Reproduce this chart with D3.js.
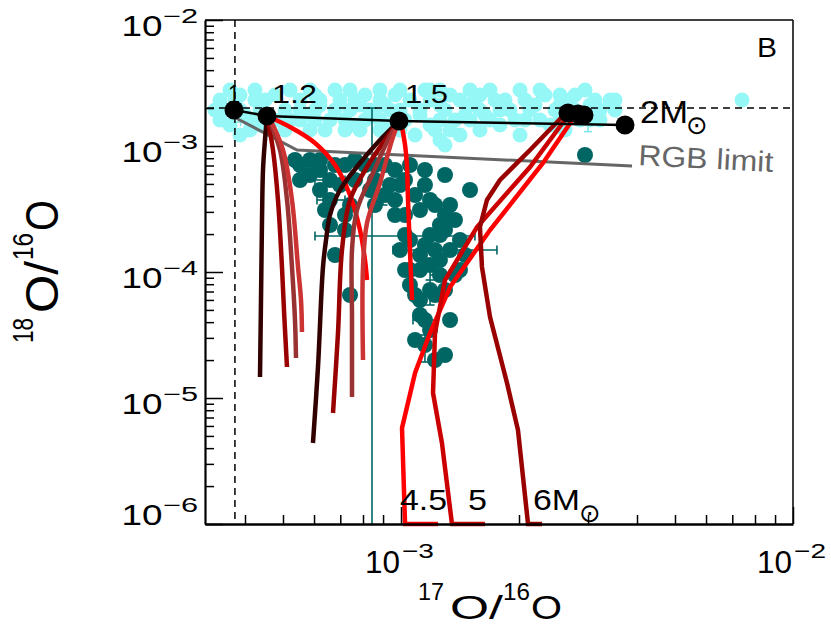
<!DOCTYPE html>
<html>
<head>
<meta charset="utf-8">
<script src="https://cdn.jsdelivr.net/npm/d3@7"></script>
<style>
  html, body { margin: 0; padding: 0; background: #fff; }
  svg { display: block; font-family: "Liberation Sans", Arial, Helvetica, sans-serif; }
</style>
</head>
<body>
<svg id="chart" width="831" height="627"></svg>
<script>
// --- Data ---
const xDomain = [3.1623e-4, 1e-2];
const yDomain = [1e-6, 1e-2];
const xMajor = [1e-3, 1e-2];
const xMajorExp = ["−3", "−2"];
const yMajor = [1e-2, 1e-3, 1e-4, 1e-5, 1e-6];
const yMajorExp = ["−2", "−3", "−4", "−5", "−6"];

// solar reference values
const solar17 = 3.77e-4;
const solar18 = 2.0e-3;

// light cyan grains
const cyanX = [3.454e-4, 3.556e-4, 3.884e-4, 3.999e-4, 4.241e-4, 4.368e-4, 4.771e-4, 5.059e-4, 5.210e-4, 5.525e-4,
  5.690e-4, 6.033e-4, 6.214e-4, 6.590e-4, 6.988e-4, 7.412e-4, 7.632e-4, 8.094e-4, 8.583e-4, 9.103e-4,
  9.374e-4, 1.054e-3, 1.118e-3, 1.151e-3, 1.186e-3, 1.257e-3, 1.334e-3, 1.373e-3, 1.414e-3, 1.500e-3,
  1.590e-3, 1.637e-3, 1.737e-3, 1.789e-3, 1.897e-3, 2.012e-3, 2.072e-3, 2.197e-3, 2.330e-3, 2.400e-3,
  2.544e-3, 2.620e-3, 2.779e-3, 3.034e-3, 3.219e-3, 3.413e-3, 1.295e-3, 3.663e-4, 4.632e-4, 5.859e-4,
  7.197e-4, 1.086e-3, 2.012e-3, 2.861e-3, 7.413e-3, 1.500e-3, 1.186e-3, 8.838e-4, 2.544e-3, 3.219e-3,
  4.118e-4, 6.786e-4, 9.941e-4, 2.263e-3, 1.457e-3, 9.654e-4, 4.912e-4, 7.860e-4, 1.842e-3, 3.515e-3, 3.884e-4,
  3.663e-4, 4.241e-4, 5.210e-4, 5.859e-4, 7.412e-4, 9.941e-4, 1.257e-3, 1.687e-3, 2.263e-3, 2.947e-3,
  3.772e-4, 4.498e-4, 6.214e-4, 7.632e-4, 8.838e-4, 1.186e-3, 1.414e-3, 1.544e-3, 2.072e-3, 2.698e-3, 3.125e-3,
  3.354e-4, 3.884e-4, 4.368e-4, 5.525e-4, 6.033e-4, 6.786e-4, 8.336e-4, 9.374e-4, 1.118e-3, 1.295e-3,
  1.590e-3, 1.789e-3, 2.134e-3, 2.471e-3, 2.779e-3, 3.515e-3,
  3.454e-4, 4.632e-4, 5.525e-4, 6.033e-4, 7.197e-4, 8.094e-4, 8.838e-4, 1.024e-3, 1.257e-3, 1.500e-3,
  1.687e-3, 1.954e-3, 2.544e-3, 3.034e-3,
  4.118e-4, 5.059e-4, 6.399e-4, 7.860e-4, 8.838e-4, 9.941e-4, 1.221e-3, 1.334e-3, 1.590e-3, 1.257e-3];
const cyanY = [2.318e-3, 1.931e-3, 2.540e-3, 1.762e-3, 2.318e-3, 1.468e-3, 2.540e-3, 1.931e-3, 1.608e-3, 2.318e-3,
  1.762e-3, 2.540e-3, 2.116e-3, 1.608e-3, 2.318e-3, 1.931e-3, 1.468e-3, 2.540e-3, 1.762e-3, 2.116e-3,
  1.468e-3, 2.318e-3, 1.762e-3, 2.783e-3, 1.468e-3, 2.116e-3, 2.540e-3, 1.608e-3, 1.223e-3, 2.116e-3,
  2.540e-3, 1.762e-3, 2.318e-3, 1.468e-3, 1.931e-3, 2.783e-3, 1.608e-3, 2.116e-3, 2.540e-3, 1.468e-3,
  2.116e-3, 1.340e-3, 2.540e-3, 2.116e-3, 1.931e-3, 2.318e-3, 1.018e-3, 1.468e-3, 1.340e-3, 1.340e-3,
  1.340e-3, 1.223e-3, 1.223e-3, 1.608e-3, 2.318e-3, 2.783e-3, 2.783e-3, 2.783e-3, 2.540e-3, 1.608e-3,
  1.608e-3, 2.783e-3, 1.931e-3, 1.608e-3, 1.762e-3, 2.540e-3, 1.608e-3, 2.116e-3, 2.318e-3, 2.318e-3, 1.223e-3,
  2.783e-3, 2.783e-3, 2.783e-3, 2.783e-3, 2.783e-3, 2.783e-3, 2.783e-3, 2.783e-3, 2.783e-3, 2.783e-3,
  2.318e-3, 2.318e-3, 2.318e-3, 2.318e-3, 2.318e-3, 2.318e-3, 2.318e-3, 2.318e-3, 2.318e-3, 2.318e-3, 2.318e-3,
  1.931e-3, 1.931e-3, 1.931e-3, 1.931e-3, 1.931e-3, 1.931e-3, 1.931e-3, 1.931e-3, 1.931e-3, 1.931e-3,
  1.931e-3, 1.931e-3, 1.931e-3, 1.931e-3, 1.931e-3, 1.931e-3,
  1.608e-3, 1.608e-3, 1.608e-3, 1.608e-3, 1.608e-3, 1.608e-3, 1.608e-3, 1.608e-3, 1.608e-3, 1.608e-3,
  1.608e-3, 1.608e-3, 1.608e-3, 1.608e-3,
  1.340e-3, 1.340e-3, 1.340e-3, 1.340e-3, 1.340e-3, 1.340e-3, 1.340e-3, 1.340e-3, 1.340e-3, 1.116e-3];
// cyan error bars: [x, y, xlo, xhi, ylo, yhi]
const cyanErr = [
  [2.223e-3, 2.5e-3, 2.223e-3, 2.223e-3, 2.2e-3, 2.9e-3],
  [3.0e-3, 1.45e-3, 3.0e-3, 3.0e-3, 1.3e-3, 1.6e-3],
  [3.65e-4, 1.55e-3, 3.45e-4, 3.9e-4, 1.55e-3, 1.55e-3]
];

// dark teal grains
const tealX = [5.525e-4, 5.859e-4, 6.214e-4, 6.590e-4, 6.590e-4, 6.590e-4, 6.786e-4, 7.412e-4, 7.197e-4, 7.197e-4,
  7.412e-4, 8.094e-4, 9.103e-4, 9.374e-4, 8.583e-4, 9.654e-4, 1.024e-3, 1.151e-3, 1.295e-3, 1.500e-3,
  2.947e-3, 1.151e-3, 1.221e-3, 1.295e-3, 1.186e-3, 1.257e-3, 1.295e-3, 1.151e-3, 1.334e-3, 1.054e-3,
  1.186e-3, 1.373e-3, 1.186e-3, 1.221e-3, 1.151e-3, 1.151e-3, 1.295e-3, 8.336e-4, 8.583e-4, 7.632e-4,
  1.086e-3, 1.024e-3, 1.118e-3, 1.257e-3, 1.257e-3, 9.654e-4, 1.054e-3, 1.118e-3, 1.414e-3, 9.941e-4,
  5.365e-4, 6.214e-4, 6.786e-4, 7.632e-4, 8.583e-4, 9.654e-4, 1.054e-3, 1.024e-3, 1.086e-3, 9.103e-4,
  6.988e-4, 6.214e-4, 5.859e-4, 6.399e-4, 7.197e-4, 1.118e-3, 1.186e-3, 1.334e-3, 1.373e-3, 1.414e-3,
  1.221e-3, 1.118e-3, 1.257e-3, 1.295e-3, 1.118e-3, 1.054e-3, 1.334e-3, 1.186e-3, 1.086e-3, 1.221e-3,
  5.525e-4, 1.457e-3, 9.941e-4, 1.024e-3];
const tealY = [7.065e-4, 7.743e-4, 6.449e-4, 5.372e-4, 3.728e-4, 2.360e-4, 1.365e-4, 6.568e-5, 7.065e-4, 2.834e-4,
  3.402e-4, 7.065e-4, 7.065e-4, 4.903e-4, 5.372e-4, 3.728e-4, 2.834e-4, 6.449e-4, 5.886e-4, 4.475e-4,
  8.483e-4, 4.903e-4, 3.402e-4, 2.834e-4, 1.967e-4, 1.967e-4, 2.154e-4, 1.638e-4, 1.495e-4, 1.037e-4,
  1.137e-4, 9.467e-5, 7.197e-5, 6.568e-5, 4.159e-5, 2.634e-5, 2.194e-5, 4.475e-4, 3.402e-4, 5.372e-4,
  6.568e-5, 1.037e-4, 4.557e-5, 9.467e-5, 2.360e-4, 2.834e-4, 1.795e-4, 1.365e-4, 1.037e-4, 4.903e-4,
  7.743e-4, 7.743e-4, 7.065e-4, 7.743e-4, 7.065e-4, 6.449e-4, 7.065e-4, 5.372e-4, 4.084e-4, 4.084e-4,
  4.903e-4, 4.475e-4, 5.886e-4, 3.104e-4, 2.154e-4, 3.104e-4, 3.728e-4, 3.402e-4, 2.586e-4, 1.795e-4,
  1.495e-4, 1.037e-4, 1.245e-4, 7.197e-5, 5.995e-5, 7.886e-5, 4.159e-5, 3.465e-5, 2.886e-5, 2.003e-5,
  5.372e-4, 1.365e-4, 1.495e-4, 1.967e-4];
// teal error bars: [x, y, xlo, xhi, ylo, yhi]
const tealErr = [
  [6.590e-4, 5.372e-4, 6.033e-4, 7.197e-4, 5.372e-4, 5.372e-4],
  [6.590e-4, 3.728e-4, 6.105e-4, 7.197e-4, 3.728e-4, 3.728e-4],
  [1.334e-3, 1.495e-4, 9.541e-4, 1.757e-3, 1.495e-4, 1.495e-4],
  [1.257e-3, 9.467e-5, 1.186e-3, 1.380e-3, 9.467e-5, 9.467e-5],
  [1.151e-3, 4.159e-5, 1.073e-3, 1.235e-3, 4.159e-5, 4.159e-5],
  [1.186e-3, 7.197e-5, 1.186e-3, 1.186e-3, 5.471e-5, 8.640e-5],
  [1.151e-3, 2.634e-5, 1.151e-3, 1.151e-3, 1.931e-5, 3.162e-5],
  [8.996e-4, 3.900e-4, 8.996e-4, 8.996e-4, 3.402e-4, 4.475e-4],
  [8.434e-4, 1.931e-4, 6.033e-4, 1.544e-3, 5.0e-7, 2.003e-3]
];

// model tracks, 1.2 Msun (five mixing cases)
const m12Tracks = [
  [[4.552e-4, 1.730e-3], [4.498e-4, 1.116e-3], [4.446e-4, 6.449e-4], [4.420e-4, 2.586e-4], [4.394e-4, 5.995e-5], [4.368e-4, 1.468e-5]],
  [[4.552e-4, 1.730e-3], [4.715e-4, 9.296e-4], [4.855e-4, 3.728e-4], [4.970e-4, 1.096e-4], [5.029e-4, 4.993e-5], [5.119e-4, 1.762e-5]],
  [[4.578e-4, 1.699e-3], [4.912e-4, 9.296e-4], [5.119e-4, 3.728e-4], [5.271e-4, 1.096e-4], [5.365e-4, 4.159e-5], [5.397e-4, 2.078e-5]],
  [[4.605e-4, 1.699e-3], [5.000e-4, 9.296e-4], [5.271e-4, 3.728e-4], [5.461e-4, 1.096e-4], [5.558e-4, 5.995e-5], [5.590e-4, 3.341e-5]],
  [[4.552e-4, 1.730e-3], [5.210e-4, 1.415e-3], [6.033e-4, 1.056e-3], [6.786e-4, 7.065e-4], [7.412e-4, 4.084e-4], [7.860e-4, 2.154e-4], [8.094e-4, 1.245e-4], [8.190e-4, 8.640e-5]]
];
// model tracks, 1.5 Msun
const m15Tracks = [
  [[9.883e-4, 1.579e-3], [8.838e-4, 1.116e-3], [7.860e-4, 7.328e-4], [6.988e-4, 4.475e-4], [6.590e-4, 2.834e-4], [6.438e-4, 1.795e-4], [6.324e-4, 1.096e-4], [6.141e-4, 1.762e-5], [5.963e-4, 4.394e-6]],
  [[9.883e-4, 1.579e-3], [9.103e-4, 1.116e-3], [8.190e-4, 6.813e-4], [7.412e-4, 3.728e-4], [7.071e-4, 1.495e-4], [6.907e-4, 3.281e-5], [6.707e-4, 7.603e-6]],
  [[9.883e-4, 1.579e-3], [9.265e-4, 1.116e-3], [8.483e-4, 6.105e-4], [7.722e-4, 3.104e-4], [7.499e-4, 1.495e-4], [7.499e-4, 4.394e-5], [7.499e-4, 1.018e-5]],
  [[9.883e-4, 1.579e-3], [9.485e-4, 1.116e-3], [8.838e-4, 5.085e-4], [8.190e-4, 2.448e-4], [8.000e-4, 1.096e-4], [8.000e-4, 2.003e-5]],
  [[1.000e-3, 1.550e-3], [1.024e-3, 1.018e-3], [1.036e-3, 6.813e-4], [1.042e-3, 3.728e-4], [1.054e-3, 1.495e-4], [1.067e-3, 5.995e-5]]
];
// hot bottom burning tracks: 4.5, 5, 6 Msun
const hbbTracks = [
  [[2.746e-3, 1.638e-3], [2.303e-3, 7.328e-4], [1.687e-3, 2.154e-4], [1.334e-3, 7.603e-5], [1.186e-3, 3.281e-5], [1.086e-3, 1.579e-5], [1.006e-3, 5.778e-6], [1.024e-3, 1.0e-6], [1.243e-3, 1.0e-6]],
  [[2.651e-3, 1.699e-3], [2.134e-3, 6.813e-4], [1.563e-3, 2.276e-4], [1.295e-3, 8.640e-5], [1.221e-3, 3.281e-5], [1.207e-3, 1.096e-5], [1.272e-3, 4.394e-6], [1.349e-3, 1.0e-6], [1.637e-3, 1.0e-6]],
  [[2.589e-3, 1.730e-3], [2.134e-3, 9.296e-4], [1.789e-3, 5.372e-4], [1.657e-3, 3.728e-4], [1.590e-3, 2.276e-4], [1.609e-3, 1.096e-4], [1.687e-3, 4.394e-5], [1.864e-3, 1.315e-5], [1.988e-3, 5.572e-6], [2.109e-3, 1.0e-6], [2.290e-3, 1.0e-6]]
];

// initial compositions of the models (black dots)
const massX = [3.750e-4, 4.552e-4, 9.883e-4, 2.667e-3, 2.829e-3, 2.930e-3, 3.728e-3];
const massY = [1.931e-3, 1.730e-3, 1.579e-3, 1.827e-3, 1.795e-3, 1.762e-3, 1.468e-3];
const massLineIdx = [0, 1, 2, 6];

// RGB limit
const rgbX = [3.706e-4, 5.429e-4, 3.885e-3];
const rgbY = [1.730e-3, 9.296e-4, 6.937e-4];

// mass labels
const labelText = ["1", "1.2", "1.5", "2M", "4.5", "5", "6M"];
const labelX = [3.62e-4, 4.688e-4, 1.024e-3, 4.07e-3, 9.94e-4, 1.482e-3, 2.171e-3];
const labelY = [2.194e-3, 2.194e-3, 2.194e-3, 1.522e-3, 1.291e-6, 1.291e-6, 1.291e-6];
const sunX = [5.69e-3, 3.034e-3];
const sunY = [1.468e-3, 1.222e-6];

// --- Scales ---
const L = 205, R = 793, T = 20, B = 524;
const svg = d3.select("#chart");
const x = d3.scaleLog().domain(xDomain).range([L, R]);
const y = d3.scaleLog().domain(yDomain).range([B, T]);

const CYAN = "#96f7f7";
const TEAL = "#006664";

function errBars(g, rows, color, cap) {
    rows.forEach(r => {
        const [cx, cy, xlo, xhi, ylo, yhi] = r;
        if (xlo !== xhi) {
            g.append("line").attr("x1", x(xlo)).attr("x2", x(xhi)).attr("y1", y(cy)).attr("y2", y(cy));
            g.append("line").attr("x1", x(xlo)).attr("x2", x(xlo)).attr("y1", y(cy) - cap).attr("y2", y(cy) + cap);
            g.append("line").attr("x1", x(xhi)).attr("x2", x(xhi)).attr("y1", y(cy) - cap).attr("y2", y(cy) + cap);
        }
        if (ylo !== yhi) {
            const y0 = Math.min(y(ylo), B);
            g.append("line").attr("x1", x(cx)).attr("x2", x(cx)).attr("y1", y0).attr("y2", y(yhi));
            g.append("line").attr("x1", x(cx) - cap).attr("x2", x(cx) + cap).attr("y1", y(yhi)).attr("y2", y(yhi));
            if (y(ylo) < B) {
                g.append("line").attr("x1", x(cx) - cap).attr("x2", x(cx) + cap).attr("y1", y(ylo)).attr("y2", y(ylo));
            }
        }
    });
    g.attr("stroke", color).attr("stroke-width", 1.6);
}

// cyan grains
errBars(svg.append("g"), cyanErr, "#7fe8e8", 4);
svg.append("g").selectAll("circle").data(cyanX).join("circle")
    .attr("cx", d => x(d)).attr("cy", (d, i) => y(cyanY[i])).attr("r", 7.5)
    .attr("fill", CYAN);

// teal grains
svg.append("g").selectAll("circle").data(tealX).join("circle")
    .attr("cx", d => x(d)).attr("cy", (d, i) => y(tealY[i])).attr("r", 8)
    .attr("fill", TEAL);
errBars(svg.append("g"), tealErr, TEAL, 4.5);

// solar lines
svg.append("line").attr("x1", x(solar17)).attr("x2", x(solar17)).attr("y1", T).attr("y2", B)
    .attr("stroke", "#000").attr("stroke-width", 1.5).attr("stroke-dasharray", "7,5");
svg.append("line").attr("x1", L + 2).attr("x2", R).attr("y1", y(solar18)).attr("y2", y(solar18))
    .attr("stroke", "#000").attr("stroke-width", 1.5).attr("stroke-dasharray", "7,5");

// RGB limit
svg.append("path")
    .attr("d", d3.line().x(d => x(d)).y((d, i) => y(rgbY[i]))(rgbX))
    .attr("fill", "none").attr("stroke", "#666").attr("stroke-width", 3);

// tracks
const lowColors = ["#330000", "#990000", "#993333", "#cc3333", "#ff0000"];
const hbbColors = ["#ff0000", "#cc0000", "#990000"];
const curved = d3.line().x(d => x(d[0])).y(d => y(d[1])).curve(d3.curveCatmullRom.alpha(0.5));
const straight = d3.line().x(d => x(d[0])).y(d => y(d[1]));

[m12Tracks, m15Tracks].forEach(set => {
    svg.append("g").selectAll("path").data(set).join("path")
        .attr("d", d => curved(d))
        .attr("fill", "none")
        .attr("stroke", (d, i) => lowColors[i])
        .attr("stroke-width", 4.5);
});
svg.append("g").selectAll("path").data(hbbTracks).join("path")
    .attr("d", d => straight(d))
    .attr("fill", "none")
    .attr("stroke", (d, i) => hbbColors[i])
    .attr("stroke-width", 4.5)
    .attr("stroke-linejoin", "miter");

// black line & dots
svg.append("path")
    .attr("d", d3.line().x(i => x(massX[i])).y(i => y(massY[i]))(massLineIdx))
    .attr("fill", "none").attr("stroke", "#000").attr("stroke-width", 2.5);
svg.append("g").selectAll("circle").data(massX).join("circle")
    .attr("cx", d => x(d)).attr("cy", (d, i) => y(massY[i])).attr("r", 9.5)
    .attr("fill", "#000");

// --- Axes ---
const minorX = x.ticks().filter(v => !xMajor.some(m => Math.abs(m - v) / m < 1e-6));
const minorY = y.ticks().filter(v => !yMajor.some(m => Math.abs(m - v) / m < 1e-6));

const axL = svg.append("g").attr("transform", `translate(${L},0)`)
    .call(d3.axisRight(y).tickValues(yMajor).tickSize(18).tickSizeOuter(0).tickFormat(""));
svg.append("g").attr("transform", `translate(${L},0)`)
    .call(d3.axisRight(y).tickValues(minorY).tickSize(9).tickFormat(""))
    .select(".domain").remove();
const axB = svg.append("g").attr("transform", `translate(0,${B})`)
    .call(d3.axisTop(x).tickValues(xMajor).tickSize(17).tickSizeOuter(0).tickFormat(""));
svg.append("g").attr("transform", `translate(0,${B})`)
    .call(d3.axisTop(x).tickValues(minorX).tickSize(9).tickFormat(""))
    .select(".domain").remove();
svg.selectAll(".tick line").attr("stroke", "#000").attr("stroke-width", 1.5);
axL.select(".domain").attr("stroke-width", 2.2);
axB.select(".domain").attr("stroke-width", 2.5);
svg.append("line").attr("x1", L).attr("x2", R).attr("y1", T).attr("y2", T).attr("stroke", "#000").attr("stroke-width", 1.5);
svg.append("line").attr("x1", R).attr("x2", R).attr("y1", T).attr("y2", B).attr("stroke", "#000").attr("stroke-width", 1.5);

// tick labels
yMajor.forEach((v, i) => {
    const base = i === yMajor.length - 1 ? y(v) + 1 : y(v) + 16;
    svg.append("text").attr("x", 121.5).attr("y", base).attr("font-size", 30)
        .attr("textLength", 41).attr("lengthAdjust", "spacingAndGlyphs").text("10");
    svg.append("text").attr("x", 163).attr("y", base - 13).attr("font-size", 20)
        .attr("textLength", 35).attr("lengthAdjust", "spacingAndGlyphs").text(yMajorExp[i]);
});
xMajor.forEach((v, i) => {
    svg.append("text").attr("x", x(v) - 36).attr("y", 573).attr("font-size", 31)
        .attr("textLength", 35).attr("lengthAdjust", "spacingAndGlyphs").text("10");
    svg.append("text").attr("x", x(v) + 1).attr("y", 558).attr("font-size", 21)
        .attr("textLength", 32).attr("lengthAdjust", "spacingAndGlyphs").text(xMajorExp[i]);
});

// axis titles
const titleParts = [["17", 0, -19, 23, 26], ["O/", 32, 0, 34, 53], ["16", 85, -19, 23, 27], ["O", 113, 0, 34, 31]];
const xt = svg.append("g").attr("transform", "translate(418,619)");
titleParts.forEach(p => {
    xt.append("text").attr("x", p[1]).attr("y", p[2]).attr("font-size", p[3])
        .attr("textLength", p[4]).attr("lengthAdjust", "spacingAndGlyphs").text(p[0]);
});
const yt = svg.append("g").attr("transform", "translate(58,343) scale(1.3,1) rotate(-90)");
[["18", 0, -19, 23, 25], ["O/", 30, 0, 35, 52], ["16", 83, -19, 23, 27], ["O", 112, 0, 35, 31]].forEach(p => {
    yt.append("text").attr("x", p[1]).attr("y", p[2]).attr("font-size", p[3])
        .attr("textLength", p[4]).attr("lengthAdjust", "spacingAndGlyphs").text(p[0]);
});

// annotations
const labelSize = [25, 25, 25, 31, 30, 30, 30];
const labelLen = [12, 45, 43, 48, 47, 19, 47];
labelText.forEach((t, i) => {
    svg.append("text").attr("x", x(labelX[i])).attr("y", y(labelY[i]))
        .attr("font-size", labelSize[i])
        .attr("textLength", labelLen[i]).attr("lengthAdjust", "spacingAndGlyphs")
        .text(t);
});
sunX.forEach((v, i) => {
    svg.append("text").attr("x", x(v)).attr("y", y(sunY[i]) + 9)
        .attr("text-anchor", "middle").attr("font-size", 26)
        .attr("font-family", "DejaVu Sans").text("⊙");
});
svg.append("text")
    .attr("transform", `translate(${x(4.023e-3)},${y(7.065e-4)}) rotate(3)`)
    .attr("font-size", 29).attr("fill", "#666")
    .attr("textLength", 135).attr("lengthAdjust", "spacingAndGlyphs")
    .text("RGB limit");
svg.append("text").attr("x", 757).attr("y", 57).attr("font-size", 27)
    .attr("textLength", 20).attr("lengthAdjust", "spacingAndGlyphs").text("B");
</script>
</body>
</html>
